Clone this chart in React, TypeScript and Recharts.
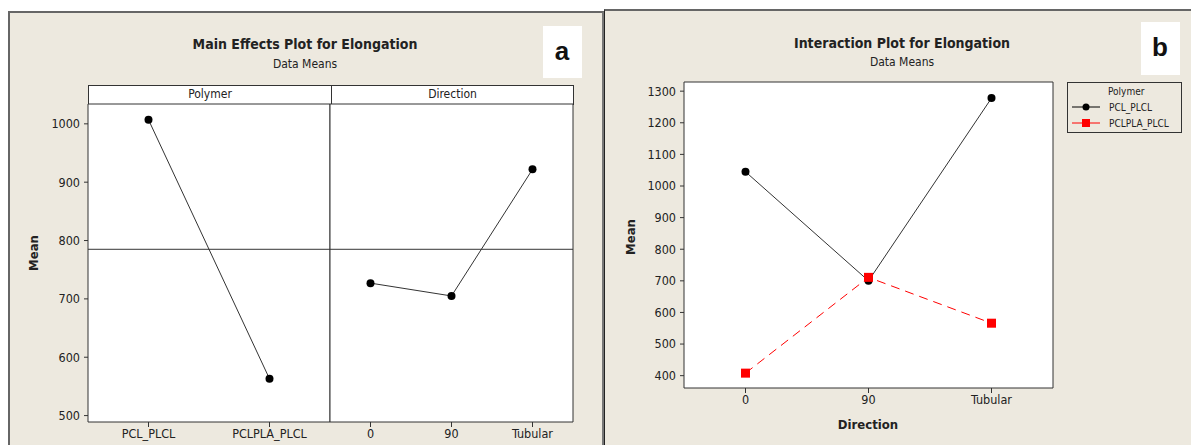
import React from "react";
import {
  LineChart,
  Line,
  XAxis,
  YAxis,
  CartesianGrid,
  ReferenceLine,
  Legend,
} from "recharts";

// main effects (panel a)
const polymerLevels = ["PCL_PLCL", "PCLPLA_PLCL"];
const polymerMeans = [1007, 563];
const directionLevels = ["0", "90", "Tubular"];
const directionMeans = [727, 705, 922];
const grandMean = 785;
const mainTicks = [500, 600, 700, 800, 900, 1000];

// interaction (panel b)
const seriesNames = ["PCL_PLCL", "PCLPLA_PLCL"];
const pclPlclMeans = [1045, 700, 1278];
const pclplaPlclMeans = [408, 711, 566];
const interactionTicks = [400, 500, 600, 700, 800, 900, 1000, 1100, 1200, 1300];

const FONT = '"DejaVu Sans Condensed", "DejaVu Sans", sans-serif';
const BG = "#EDE9DF";
const INK = "#222";
const FRAME = "#333";

const polymerData = polymerLevels.map((level, i) => ({ level, mean: polymerMeans[i] }));
const directionData = directionLevels.map((level, i) => ({ level, mean: directionMeans[i] }));
const interactionData = directionLevels.map((level, i) => ({
  level,
  [seriesNames[0]]: pclPlclMeans[i],
  [seriesNames[1]]: pclplaPlclMeans[i],
}));

const tickStyle = { fill: INK, fontSize: 12.5, fontFamily: FONT };

function RoundDot(props: any) {
  const { cx, cy } = props;
  if (cx == null || cy == null) return null;
  return <circle cx={cx} cy={cy} r={4} fill="#000" />;
}

function SquareDot(props: any) {
  const { cx, cy } = props;
  if (cx == null || cy == null) return null;
  return <rect x={cx - 4.5} y={cy - 4.5} width={9} height={9} fill="#FF0000" />;
}

function abs(left: number, top: number, extra: React.CSSProperties = {}): React.CSSProperties {
  return { position: "absolute", left, top, ...extra };
}

function CenterText({ x, y, children, style }: { x: number; y: number; children: React.ReactNode; style?: React.CSSProperties }) {
  return (
    <div
      style={{
        position: "absolute",
        left: x,
        top: y,
        transform: "translate(-50%, -50%)",
        whiteSpace: "nowrap",
        fontFamily: FONT,
        color: INK,
        ...style,
      }}
    >
      {children}
    </div>
  );
}

function PolymerLegend() {
  return (
    <div
      style={{
        width: 115,
        height: 51,
        border: `1.5px solid ${FRAME}`,
        background: BG,
        fontFamily: FONT,
        fontSize: 10,
        color: INK,
        position: "relative",
        boxSizing: "border-box",
      }}
    >
      <div style={{ position: "absolute", left: 40, top: 3 }}>Polymer</div>
      {seriesNames.map((name, i) => (
        <div key={name} style={{ position: "absolute", left: 4, top: 18 + i * 16, display: "flex", alignItems: "center" }}>
          <svg width={30} height={12}>
            <line x1={0} y1={6} x2={28} y2={6} stroke={i === 0 ? "#000" : "#FF0000"} strokeWidth={1} />
            {i === 0 ? (
              <circle cx={14} cy={6} r={3.5} fill="#000" />
            ) : (
              <rect x={10} y={2} width={8} height={8} fill="#FF0000" />
            )}
          </svg>
          <span style={{ marginLeft: 7 }}>{name}</span>
        </div>
      ))}
    </div>
  );
}

export default function App() {
  const mainDomain = [489, 1034];
  const interDomain = [361, 1329];
  return (
    <div style={{ position: "absolute", left: 0, top: 0, width: 1191, height: 445, overflow: "hidden", background: "#fff", fontFamily: FONT }}>
      {/* panel a */}
      <div style={abs(8, 11, { width: 592, height: 440, background: BG, borderTop: "2px solid #666", borderLeft: "2px solid #666", borderRight: "2px solid #777" })} />
      {/* panel b */}
      <div style={abs(604, 9, { width: 600, height: 440, background: BG, borderTop: "2px solid #666", borderLeft: "1.5px solid #222" })} />

      <div style={abs(543, 26, { width: 39, height: 52, background: "#fff" })} />
      <CenterText x={562} y={51} style={{ fontFamily: '"Liberation Sans", Arial, sans-serif', fontWeight: 700, fontSize: 26, color: "#111" }}>a</CenterText>
      <div style={abs(1141, 22, { width: 39, height: 53, background: "#fff" })} />
      <CenterText x={1160} y={47} style={{ fontFamily: '"Liberation Sans", Arial, sans-serif', fontWeight: 700, fontSize: 26, color: "#111" }}>b</CenterText>

      <CenterText x={305} y={44} style={{ fontWeight: 700, fontSize: 14 }}>Main Effects Plot for Elongation</CenterText>
      <CenterText x={305} y={64} style={{ fontSize: 12 }}>Data Means</CenterText>
      <CenterText x={902} y={43} style={{ fontWeight: 700, fontSize: 14 }}>Interaction Plot for Elongation</CenterText>
      <CenterText x={902} y={62} style={{ fontSize: 12 }}>Data Means</CenterText>

      {/* strip headers */}
      <div style={abs(88, 85, { width: 486, height: 20, boxSizing: "border-box", border: `1.5px solid ${FRAME}`, background: "#fff", display: "flex" })}>
        <div style={{ width: 242, borderRight: `1.5px solid ${FRAME}`, textAlign: "center", fontSize: 12, lineHeight: "17px", color: INK }}>Polymer</div>
        <div style={{ flex: 1, textAlign: "center", fontSize: 12, lineHeight: "17px", color: INK }}>Direction</div>
      </div>

      <CenterText x={33} y={253} style={{ fontWeight: 700, fontSize: 13, transform: "translate(-50%, -50%) rotate(-90deg)" }}>Mean</CenterText>
      <CenterText x={630} y={237} style={{ fontWeight: 700, fontSize: 13, transform: "translate(-50%, -50%) rotate(-90deg)" }}>Mean</CenterText>
      <CenterText x={868} y={424} style={{ fontWeight: 700, fontSize: 13 }}>Direction</CenterText>

      {/* main effects: Polymer */}
      <div style={abs(9, 103)}>
        <LineChart width={322} height={349} data={polymerData} margin={{ top: 0, right: 0, bottom: 0, left: 0 }}>
          <CartesianGrid horizontal={false} vertical={false} fill="#fff" />
          <XAxis dataKey="level" scale="band" height={30} tickSize={5} tick={tickStyle} stroke={FRAME} interval={0} />
          <XAxis xAxisId="top" dataKey="level" scale="band" orientation="top" height={1} tick={false} tickLine={false} stroke={FRAME} />
          <YAxis width={79} domain={mainDomain} ticks={mainTicks} allowDataOverflow tickSize={4} tickMargin={4} tick={tickStyle} stroke={FRAME} />
          <YAxis yAxisId="right" orientation="right" width={1} domain={mainDomain} tick={false} tickLine={false} stroke={FRAME} />
          <ReferenceLine y={grandMean} stroke={FRAME} />
          <Line dataKey="mean" stroke="#333" strokeWidth={1} dot={<RoundDot />} activeDot={false} isAnimationActive={false} />
        </LineChart>
      </div>

      {/* main effects: Direction */}
      <div style={abs(329, 103)}>
        <LineChart width={245} height={349} data={directionData} margin={{ top: 0, right: 0, bottom: 0, left: 0 }}>
          <CartesianGrid horizontal={false} vertical={false} fill="#fff" />
          <XAxis dataKey="level" scale="band" height={30} tickSize={5} tick={tickStyle} stroke={FRAME} interval={0} />
          <XAxis xAxisId="top" dataKey="level" scale="band" orientation="top" height={1} tick={false} tickLine={false} stroke={FRAME} />
          <YAxis width={1} domain={mainDomain} allowDataOverflow tick={false} tickLine={false} stroke={FRAME} />
          <YAxis yAxisId="right" orientation="right" width={1} domain={mainDomain} tick={false} tickLine={false} stroke={FRAME} />
          <ReferenceLine y={grandMean} stroke={FRAME} />
          <Line dataKey="mean" stroke="#333" strokeWidth={1} dot={<RoundDot />} activeDot={false} isAnimationActive={false} />
        </LineChart>
      </div>

      {/* interaction */}
      <div style={abs(605, 81)}>
        <LineChart width={586} height={347} data={interactionData} margin={{ top: 0, right: 137, bottom: 0, left: 0 }}>
          <CartesianGrid horizontal={false} vertical={false} fill="#fff" />
          <XAxis dataKey="level" scale="band" height={40} tickSize={5} tick={tickStyle} stroke={FRAME} interval={0} />
          <XAxis xAxisId="top" dataKey="level" scale="band" orientation="top" height={1} tick={false} tickLine={false} stroke={FRAME} />
          <YAxis width={79} domain={interDomain} ticks={interactionTicks} allowDataOverflow tickSize={4} tickMargin={4} tick={tickStyle} stroke={FRAME} />
          <YAxis yAxisId="right" orientation="right" width={1} domain={interDomain} tick={false} tickLine={false} stroke={FRAME} />
          <Legend
            layout="horizontal"
            verticalAlign="middle"
            align="center"
            wrapperStyle={{ left: 462, top: 1, width: 117, height: 53 }}
            content={() => <PolymerLegend />}
          />
          <Line dataKey={seriesNames[0]} stroke="#333" strokeWidth={1} dot={<RoundDot />} activeDot={false} isAnimationActive={false} />
          <Line dataKey={seriesNames[1]} stroke="#FF0000" strokeWidth={1} strokeDasharray="9 6" dot={<SquareDot />} activeDot={false} isAnimationActive={false} />
        </LineChart>
      </div>
    </div>
  );
}
